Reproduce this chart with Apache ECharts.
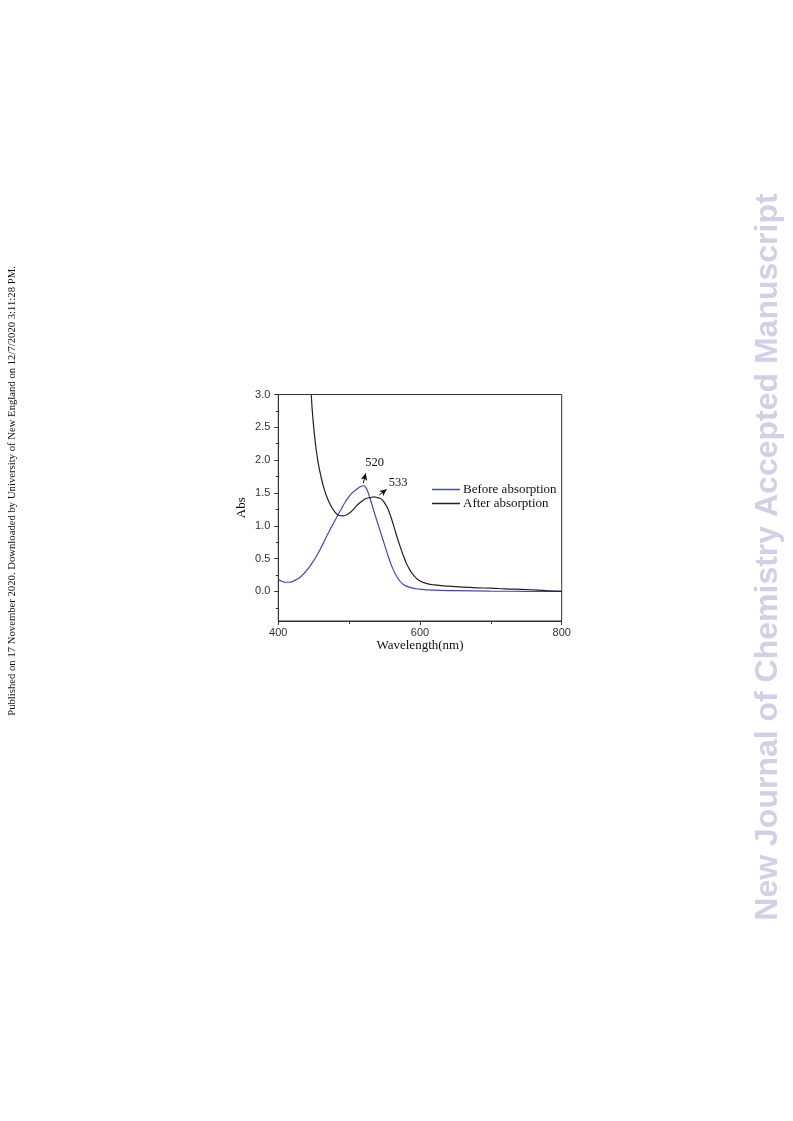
<!DOCTYPE html>
<html>
<head>
<meta charset="utf-8">
<script src="https://cdn.jsdelivr.net/npm/echarts@6/dist/echarts.min.js"></script>
<style>
html,body{margin:0;padding:0;background:#fff;}
#chart{width:793px;height:1121px;}
</style>
</head>
<body>
<div id="chart"></div>
<script>
// ---- data ----
const beforeX = [400,405,410,415,420,425,430,435,440,445,450,455,460,465,470,475,480,485,490,495,500,505,510,515,520,523,526,530,535,540,545,550,555,560,565,570,575,580,590,600,620,650,700,750,800];
const beforeY = [0.18,0.155,0.14,0.14,0.15,0.18,0.21,0.26,0.32,0.39,0.47,0.56,0.66,0.77,0.88,0.98,1.08,1.18,1.28,1.37,1.45,1.51,1.55,1.59,1.61,1.59,1.53,1.40,1.22,1.05,0.88,0.71,0.54,0.39,0.27,0.18,0.12,0.085,0.05,0.035,0.02,0.012,0.005,0.002,0.0];
const afterX = [446.5,448,450,453,456,460,465,470,475,480,485,490,495,500,505,510,515,520,525,530,535,540,545,550,555,560,565,570,575,580,585,590,595,600,610,620,640,660,680,700,720,750,780,800];
const afterY = [3.0,2.75,2.50,2.20,1.98,1.76,1.55,1.40,1.29,1.21,1.16,1.15,1.16,1.19,1.24,1.30,1.35,1.39,1.42,1.43,1.44,1.43,1.41,1.35,1.25,1.10,0.92,0.75,0.59,0.45,0.34,0.26,0.20,0.16,0.12,0.10,0.08,0.065,0.055,0.05,0.04,0.03,0.01,0.0];
const seriesNames = ['Before absorption','After absorption'];
const yMajorTicks = [0,0.5,1.0,1.5,2.0,2.5,3.0];
const yMinorTicks = [-0.25,0.25,0.75,1.25,1.75,2.25,2.75];
const peakLabels = ['520','533'];
// arrow [x0,y0,x1,y1] and label position [x,y] in data units
const peakArrows = [[520,1.65,523.4,1.80],[542.6,1.47,553,1.555]];
const arrowHeadRotate = [-14, -53];
const peakLabelPos = [[536,1.96],[569,1.66]];
const xLabel = 'Wavelength(nm)';
const yLabel = 'Abs';
const sideNote = 'Published on 17 November 2020. Downloaded by University of New England on 12/7/2020 3:11:28 PM.';
const watermark = 'New Journal of Chemistry Accepted Manuscript';

const zip = (xs, ys) => xs.map((x, i) => [x, ys[i]]);

const chart = echarts.init(document.getElementById('chart'), null, {renderer: 'canvas'});
const sans = 'Liberation Sans, Arial, sans-serif';
const serif = 'Liberation Serif, Times New Roman, serif';

chart.setOption({
  animation: false,
  backgroundColor: '#fff',
  grid: {left: 278.3, right: 231.3, top: 394.5, bottom: 500, show: true, borderColor: '#333', borderWidth: 1, backgroundColor: 'transparent'},
  legend: {
    left: 427, top: 478, orient: 'vertical', itemWidth: 28, itemHeight: 1.5, itemGap: 1,
    icon: 'rect',
    textStyle: {fontFamily: serif, fontSize: 13, lineHeight: 13, color: '#111', padding: [0,0,0,-2]},
    data: seriesNames
  },
  xAxis: {
    type: 'value', min: 400, max: 800, interval: 200,
    name: xLabel, nameLocation: 'middle', nameGap: 15,
    nameTextStyle: {fontFamily: serif, fontSize: 13, color: '#111'},
    axisLine: {onZero: false, lineStyle: {color: '#333', width: 1}},
    axisTick: {length: 4, lineStyle: {color: '#333'}},
    minorTick: {show: true, splitNumber: 2, length: 3, lineStyle: {color: '#333'}},
    axisLabel: {fontFamily: sans, fontSize: 11, color: '#333', margin: 6},
    splitLine: {show: false}
  },
  yAxis: [{
    type: 'value', min: -0.45, max: 3.0,
    name: yLabel, nameLocation: 'middle', nameGap: 30, nameRotate: 90,
    nameTextStyle: {fontFamily: serif, fontSize: 13, color: '#111'},
    axisLine: {show: true, onZero: false, lineStyle: {color: '#333', width: 1}},
    axisTick: {show: true, length: 4, customValues: yMajorTicks, lineStyle: {color: '#333'}},
    axisLabel: {fontFamily: sans, fontSize: 11, color: '#333', margin: 8, customValues: yMajorTicks,
      formatter: v => Number(v).toFixed(1)},
    splitLine: {show: false}
  }, {
    type: 'value', min: -0.45, max: 3.0, position: 'left',
    axisLine: {show: false, onZero: false},
    axisTick: {show: true, length: 2.5, customValues: yMinorTicks, lineStyle: {color: '#333'}},
    axisLabel: {show: false},
    splitLine: {show: false}
  }],
  series: [{
    name: seriesNames[0], type: 'line', symbol: 'none', smooth: 0.5,
    data: zip(beforeX, beforeY),
    lineStyle: {color: '#4444cc', width: 1.2}, itemStyle: {color: '#4444cc'},
    markLine: {
      silent: true, symbol: ['none','none'],
      label: {show: false},
      lineStyle: {color: '#111', width: 1, type: 'solid'},
      data: peakArrows.map(a => [{coord: [a[0], a[1]]}, {coord: [a[2], a[3]]}])
    },
    markPoint: {
      silent: true,
      data: peakLabels.map((t, i) => ({
        name: t, coord: peakLabelPos[i], symbol: 'circle', symbolSize: 0,
        label: {show: true, fontFamily: serif, fontSize: 12.5, color: '#111', formatter: t, position: 'inside'}
      })).concat(peakArrows.map((a, i) => ({
        name: 'arrow' + i, coord: [a[2], a[3]], symbol: 'arrow', symbolSize: [5, 7],
        symbolRotate: arrowHeadRotate[i], itemStyle: {color: '#111'}, label: {show: false}
      })))
    }
  }, {
    name: seriesNames[1], type: 'line', symbol: 'none', smooth: 0.5,
    data: zip(afterX, afterY),
    lineStyle: {color: '#222', width: 1.2}, itemStyle: {color: '#222'}
  }],
  graphic: [{
    type: 'text', x: 12, y: 491, rotation: Math.PI / 2,
    style: {text: sideNote, font: '10.7px ' + serif, fill: '#111', align: 'center', verticalAlign: 'middle'}
  }, {
    type: 'text', x: 768, y: 557, rotation: Math.PI / 2,
    style: {text: watermark, font: 'bold 32px ' + sans, fill: '#d0d0e6', align: 'center', verticalAlign: 'middle'}
  }]
});
</script>
</body>
</html>
